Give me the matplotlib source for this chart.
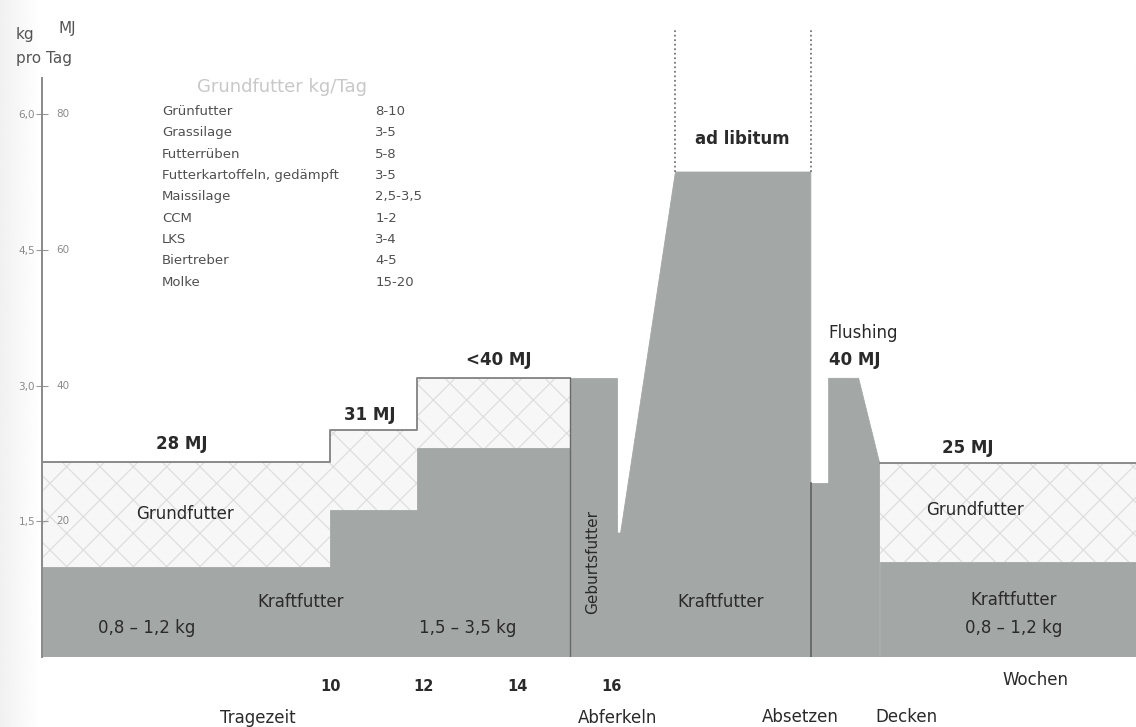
import matplotlib.pyplot as plt
import numpy as np

plt.rcParams['font.family'] = ['DejaVu Sans']
plt.rcParams['hatch.linewidth'] = 0.9

# Tragezeit: Phasen (Wochen) und Futtermengen (kg/Tag)
phase_start = [3.85, 10.0, 11.85]
phase_end = [10.0, 11.85, 15.13]
kraft_trage = [1.0, 1.62, 2.31]
gesamt_trage = [2.15, 2.51, 3.08]

# Geburtsfutter
geburt_x = [15.13, 16.13]
geburt_kg = 3.08

# Laktation (ad libitum)
lakt_x = [16.13, 16.13, 16.2, 17.37, 20.26, 20.26]
lakt_kg = [0, 1.37, 1.37, 5.36, 5.36, 0]
adlib_top = 6.93

# Absetzen / Decken / Flushing
absetz_x = [20.26, 20.64]
absetz_kg = 1.92
flush_x = [20.64, 20.64, 21.28, 21.73, 21.73]
flush_kg = [0, 3.08, 3.08, 2.14, 0]

# nach dem Decken
decken_x = [21.73, 27.2]
kraft_decken = 1.05
gesamt_decken = 2.14

wochen = [10, 12, 14, 16]
kg_ticks = [1.5, 3.0, 4.5, 6.0]
kg_labels = ['1,5', '3,0', '4,5', '6,0']
mj_labels = ['20', '40', '60', '80']

tab_futter = ['Grünfutter', 'Grassilage', 'Futterrüben', 'Futterkartoffeln, gedämpft',
              'Maissilage', 'CCM', 'LKS', 'Biertreber', 'Molke']
tab_menge = ['8-10', '3-5', '5-8', '3-5', '2,5-3,5', '1-2', '3-4', '4-5', '15-20']

grau = '#a3a7a5'
grund_fc = '#f7f7f7'
grund_hatch = '#dedede'
txt = '#2a2a2a'

fig = plt.figure(figsize=(11.36, 7.27), dpi=100)

# leichter Scan-Schatten am linken Rand
shade = fig.add_axes([0, 0, 0.035, 1], zorder=-1)
shade.imshow(np.linspace(0.92, 1.0, 80)[None, :] ** 0.7, cmap='gray', vmin=0, vmax=1,
             aspect='auto', interpolation='bilinear')
shade.set_axis_off()

ax = fig.add_axes([42/1136, 1-657/727, 1-42/1136, (657-20)/727])
ax.set_xlim(3.85, 27.2)
ax.set_ylim(0, 7.04)
ax.patch.set_alpha(0)

# Tragezeit
widths = np.array(phase_end) - np.array(phase_start)
ax.bar(phase_start, kraft_trage, width=widths, align='edge', color=grau, edgecolor=grau, linewidth=0.6)
ax.bar(phase_start, np.array(gesamt_trage) - np.array(kraft_trage), bottom=kraft_trage,
       width=widths, align='edge', facecolor=grund_fc, edgecolor=grund_hatch, hatch='x', linewidth=0)
step_x = [phase_start[0]] + [v for s, e in zip(phase_start, phase_end) for v in (s, e)][1:]
step_y = [g for g in gesamt_trage for _ in range(2)]
ax.plot(step_x, step_y, color='#8a8a8a', lw=1.4)

# Geburtsfutter
ax.bar(geburt_x[0], geburt_kg, width=geburt_x[1]-geburt_x[0], align='edge',
       color=grau, edgecolor=grau, linewidth=0.6)
ax.plot([geburt_x[0], geburt_x[0]], [0, geburt_kg], color='#6a6a6a', lw=1)

# Laktation
ax.fill(lakt_x, lakt_kg, color=grau, linewidth=0.6)
ax.plot([lakt_x[3], lakt_x[3]], [lakt_kg[3], adlib_top], color='#777777', lw=1.3, ls=(0, (1, 1.5)))
ax.plot([lakt_x[4], lakt_x[4]], [lakt_kg[4], adlib_top], color='#777777', lw=1.3, ls=(0, (1, 1.5)))

# Absetzen, Flushing
ax.bar(absetz_x[0], absetz_kg, width=absetz_x[1]-absetz_x[0], align='edge',
       color=grau, edgecolor=grau, linewidth=0.6)
ax.fill(flush_x, flush_kg, color=grau, linewidth=0.6)
ax.plot([absetz_x[0], absetz_x[0]], [0, absetz_kg], color='#5a5a5a', lw=1.1)

# nach dem Decken
ax.bar(decken_x[0], kraft_decken, width=decken_x[1]-decken_x[0], align='edge',
       color=grau, edgecolor=grau, linewidth=0.6)
ax.bar(decken_x[0], gesamt_decken - kraft_decken, bottom=kraft_decken, width=decken_x[1]-decken_x[0],
       align='edge', facecolor=grund_fc, edgecolor=grund_hatch, hatch='x', linewidth=0)
ax.plot(decken_x, [gesamt_decken, gesamt_decken], color='#8a8a8a', lw=1.4)

# Achsen
for s in ['top', 'bottom']:
    ax.spines[s].set_visible(False)
ax.spines['left'].set_bounds(0, 6.4)
ax.spines['left'].set_color('#8a8a8a')
ax.spines['left'].set_linewidth(1.4)
ax.spines['right'].set_bounds(2.9, 6.6)
ax.spines['right'].set_color('#dddddd')
ax.set_yticks(kg_ticks)
ax.set_yticklabels(kg_labels, fontsize=7.5, color='#8a8a8a')
ax.tick_params(axis='y', direction='inout', length=8, color='#999999', pad=1)
for k, m in zip(kg_ticks, mj_labels):
    ax.text(4.15, k, m, fontsize=7.5, color='#8a8a8a', va='center', ha='left')
ax.set_xticks(wochen)
ax.set_xticklabels([str(w) for w in wochen], fontsize=10.5, color=txt, fontweight='bold')
ax.tick_params(axis='x', length=0, pad=16)

# Beschriftungen
fs = 12
kw = dict(fontsize=fs, color=txt, ha='center', va='center', clip_on=False)
ax.text(6.84, 2.35, '28 MJ', fontweight='bold', **kw)
ax.text(10.85, 2.67, '31 MJ', fontweight='bold', **kw)
ax.text(13.6, 3.28, '<40 MJ', fontweight='bold', **kw)
ax.text(6.9, 1.58, 'Grundfutter', **kw)
ax.text(9.38, 0.61, 'Kraftfutter', **kw)
ax.text(6.09, 0.32, '0,8 – 1,2 kg', **kw)
ax.text(12.93, 0.32, '1,5 – 3,5 kg', **kw)
ax.text(15.6, 1.05, 'Geburtsfutter', rotation=90, fontsize=11, color=txt,
        ha='center', va='center')
ax.text(18.33, 0.61, 'Kraftfutter', **kw)
ax.text(18.79, 5.72, 'ad libitum', fontweight='bold', **kw)
ax.text(20.64, 3.58, 'Flushing', fontsize=fs, color=txt, ha='left', va='center')
ax.text(20.64, 3.28, '40 MJ', fontsize=fs, color=txt, ha='left', va='center', fontweight='bold')
ax.text(23.6, 2.31, '25 MJ', fontweight='bold', **kw)
ax.text(23.76, 1.62, 'Grundfutter', **kw)
ax.text(24.59, 0.63, 'Kraftfutter', **kw)
ax.text(24.59, 0.32, '0,8 – 1,2 kg', **kw)
ax.text(25.06, -0.25, 'Wochen', **kw)
ax.text(8.46, -0.67, 'Tragezeit', **kw)
ax.text(16.13, -0.67, 'Abferkeln', **kw)
ax.text(20.04, -0.66, 'Absetzen', **kw)
ax.text(22.29, -0.66, 'Decken', **kw)

# Tabelle Grundfutter
ax.text(8.97, 6.30, 'Grundfutter kg/Tag', fontsize=13, color='#c8c8c8', ha='center', va='center')
for i, (f, m) in enumerate(zip(tab_futter, tab_menge)):
    yy = 6.03 - i * 0.236
    ax.text(6.41, yy, f, fontsize=9.5, color='#505050', ha='left', va='center')
    ax.text(10.96, yy, m, fontsize=9.5, color='#505050', ha='left', va='center')

fig.text(16/1136, 1-35/727, 'kg', fontsize=11, color='#555555', va='center')
fig.text(58/1136, 1-29/727, 'MJ', fontsize=11, color='#555555', va='center')
fig.text(16/1136, 1-59/727, 'pro Tag', fontsize=11, color='#555555', va='center')

fig.savefig('out.png', dpi=100)
